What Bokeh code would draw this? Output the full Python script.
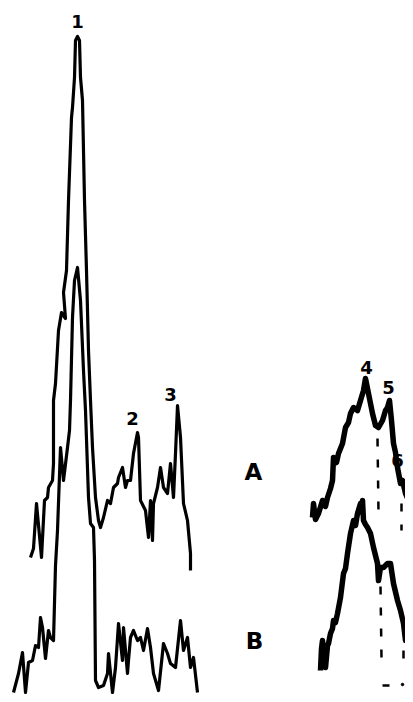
from bokeh.plotting import figure
from bokeh.embed import file_html
from bokeh.resources import INLINE
from bokeh.core.properties import value
from bokeh.models import Range1d

H = 694  # drawing height: intensity = H - row

# ---- Trace A, left group (position, row-read value) ----
a1_x = [30, 33, 36, 41, 44, 47, 48, 52, 53, 53, 55, 58, 61, 65, 63, 66, 68, 71, 72, 74, 75, 77, 79, 80, 82, 84, 86, 88, 90, 92, 95, 98, 100,
        103, 107, 110, 113, 117, 118, 122, 125, 127, 130, 133, 137, 138, 140, 145, 148, 150, 152, 153, 157, 160, 163, 167,
        170, 173, 175, 177, 180, 183, 187, 190, 190]
a1_r = [557, 548, 503, 557, 500, 497, 487, 480, 463, 400, 383, 330, 312, 318, 292, 270, 200, 117, 107, 77, 40, 36, 40, 77, 100, 200, 270, 350, 400, 447, 497, 520, 527,
        517, 500, 503, 487, 483, 477, 467, 487, 480, 480, 453, 432, 437, 500, 510, 537, 500, 540, 503, 487, 467, 487, 493,
        463, 497, 453, 405, 437, 503, 520, 553, 570]

# ---- Trace B, left group ----
b1_x = [13, 18, 22, 25, 28, 32, 35, 38, 40, 42, 45, 48, 50, 53, 55, 57, 60, 63, 67, 69, 70, 72, 74, 77, 80, 83, 85, 88, 90, 93, 94,
        95, 98, 103, 107, 108, 112, 115, 118, 122, 123, 127, 128, 130, 133, 137, 140, 143, 147, 150, 153, 158, 163, 167,
        170, 175, 180, 183, 187, 190, 193, 197]
b1_r = [692, 673, 652, 692, 662, 660, 645, 647, 617, 627, 658, 630, 637, 640, 565, 530, 447, 480, 447, 430, 400, 317, 280, 267, 300, 370, 410, 497, 523, 527, 560,
        680, 687, 685, 673, 653, 692, 667, 623, 660, 627, 673, 660, 637, 630, 640, 637, 650, 628, 647, 673, 690, 643, 653,
        663, 667, 620, 650, 637, 667, 657, 692]

# ---- Trace A, right group ----
a2_x = [312, 313, 315, 318, 322, 325, 327, 330, 332, 333, 336, 338, 342, 345, 348, 350, 353, 357, 360, 363, 365, 368, 372, 375, 378,
        382, 385, 387, 389, 391, 393, 395, 397, 400, 402, 405, 408, 410, 413, 416]
a2_r = [517, 503, 519, 513, 500, 506, 497, 488, 480, 457, 462, 453, 443, 427, 422, 413, 407, 410, 400, 390, 378, 393, 413, 425, 427,
        420, 410, 407, 400, 420, 443, 452, 467, 483, 480, 493, 500, 503, 513, 525]

# ---- Trace B, right group ----
b2_x = [320, 321, 322, 324, 325, 327, 328, 330, 332, 333, 335, 337, 340, 343, 345, 347, 350, 353, 355, 357, 360, 361, 362, 363, 365,
        367, 370, 373, 377, 378, 380, 383, 387, 390, 393, 397, 400, 403, 405, 408, 412, 416]
b2_r = [670, 648, 640, 662, 667, 645, 643, 633, 628, 620, 622, 613, 597, 573, 568, 553, 533, 520, 525, 513, 503, 512, 500, 520, 524,
        527, 533, 547, 563, 580, 567, 567, 563, 563, 583, 600, 610, 623, 640, 630, 640, 650]

# ---- Dashed guide lines (x, top row, bottom row) ----
dash_x0 = [377, 380, 401, 403]
dash_r0 = [438, 586, 503, 650]
dash_x1 = [378, 381, 401, 403]
dash_r1 = [512, 658, 530, 664]

# ---- Labels ----
peak_labels = ["1", "2", "3", "4", "5", "6"]
peak_x = [77, 132, 170, 366, 388, 397]
peak_r = [21, 418, 394, 367, 387, 460]
trace_labels = ["A", "B"]
trace_x = [253, 254]
trace_r = [471, 640]

p = figure(width=405, height=694, output_backend="svg", toolbar_location=None,
           x_range=Range1d(0, 405), y_range=Range1d(0, 694), min_border=0)
p.axis.visible = False
p.xgrid.visible = False
p.ygrid.visible = False
p.outline_line_color = None
p.background_fill_color = "white"
p.border_fill_color = "white"

def inv(rows):
    return [H - r for r in rows]

p.line(a1_x, inv(a1_r), line_color="black", line_width=3.2, line_join="round")
p.line(b1_x, inv(b1_r), line_color="black", line_width=3.2, line_join="round")
p.line(a2_x, inv(a2_r), line_color="black", line_width=5.5, line_join="round")
p.line(b2_x, inv(b2_r), line_color="black", line_width=5.5, line_join="round")

p.segment(x0=dash_x0, y0=inv(dash_r0), x1=dash_x1, y1=inv(dash_r1),
          line_color="black", line_width=2.5, line_dash="8 13")

# small bottom marks
p.segment(x0=[382], y0=[H - 685], x1=[389], y1=[H - 685], line_color="black", line_width=2.5)
p.scatter([402], [H - 684], size=2.5, color="black")

p.text(peak_x, inv(peak_r), text=peak_labels, text_align="center", text_baseline="middle",
       text_font=value("DejaVu Sans"), text_font_style="bold", text_font_size="18px", text_color="black")
p.text(trace_x, inv(trace_r), text=trace_labels, text_align="center", text_baseline="middle",
       text_font=value("DejaVu Sans"), text_font_style="bold", text_font_size="23px", text_color="black")

open("out.html", "w").write(file_html(p, INLINE))
